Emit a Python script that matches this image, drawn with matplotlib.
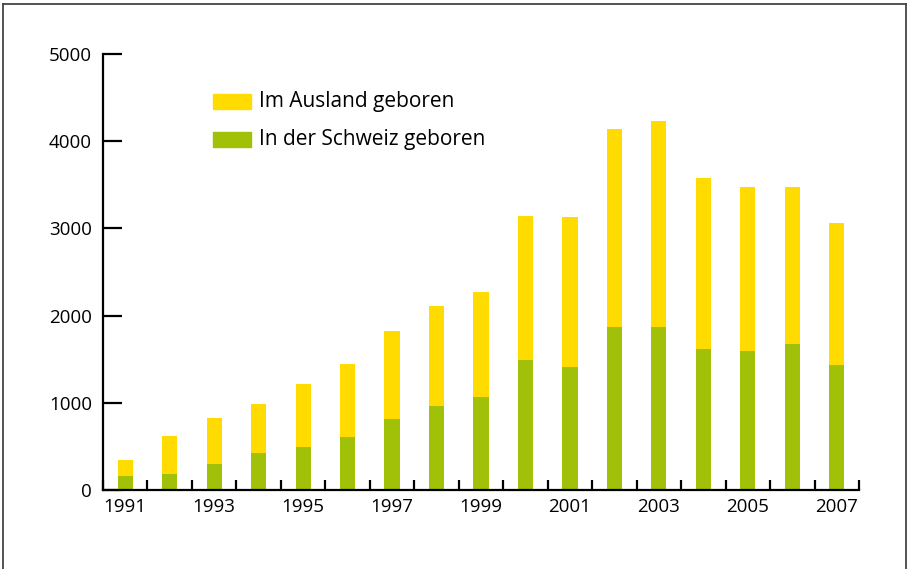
import matplotlib
matplotlib.use("Agg")
import matplotlib.pyplot as plt
from matplotlib.patches import Rectangle
from matplotlib.lines import Line2D
import numpy as np

years = list(range(1991, 2008))
schweiz = [160, 183, 298, 424, 493, 608, 814, 963, 1066, 1491, 1411, 1869, 1869, 1617, 1594, 1674, 1434]
total = [344, 619, 826, 986, 1216, 1445, 1823, 2110, 2271, 3142, 3130, 4140, 4232, 3578, 3475, 3475, 3062]
ausland = [t - s for t, s in zip(total, schweiz)]
labels = ["Im Ausland geboren", "In der Schweiz geboren"]
yticks = [0, 1000, 2000, 3000, 4000, 5000]

YELLOW = "#FFDB00"
GREEN = "#A0C108"

plt.rcParams['font.family'] = ['Open Sans', 'DejaVu Sans']
W, H = 910, 569
fig = plt.figure(figsize=(W / 100, H / 100), dpi=100)
ax = fig.add_axes([103 / W, 1 - 490 / H, (859 - 103) / W, (490 - 54) / H])

ax.bar(years, schweiz, width=0.34, color=GREEN, zorder=2)
ax.bar(years, ausland, bottom=schweiz, width=0.34, color=YELLOW, zorder=2)

ax.set_xlim(1990.5, 2007.5)
ax.set_ylim(0, 5000)
for s in ["top", "right"]:
    ax.spines[s].set_visible(False)
for s in ["left", "bottom"]:
    ax.spines[s].set_linewidth(1.6)
    ax.spines[s].set_capstyle("projecting")

ax.set_yticks(yticks)
ax.tick_params(axis="y", direction="in", length=14, width=1.6, pad=8, labelsize=13.5)
ax.set_xticks(years[::2])
ax.set_xticks(np.arange(1990.5, 2008, 1.0), minor=True)
ax.tick_params(axis="x", which="major", length=0, pad=6, labelsize=13.5)
ax.tick_params(axis="x", which="minor", direction="in", length=7, width=1.6)

# legend drawn manually
fx = lambda x: x / W
fy = lambda y: 1 - y / H
for i, (lab, col) in enumerate(zip(labels, [YELLOW, GREEN])):
    y0 = 94 + i * 38
    fig.patches.append(Rectangle((fx(213), fy(y0 + 15)), 38 / W, 15 / H,
                                 transform=fig.transFigure, color=col))
    fig.text(fx(259), fy(y0 + 8), lab, fontsize=15, va="center", ha="left")

# outer frame (no bottom)
kw = dict(transform=fig.transFigure, color="#444444", lw=1.3)
fig.lines.append(Line2D([fx(3), fx(3)], [0, fy(4)], **kw))
fig.lines.append(Line2D([fx(906), fx(906)], [0, fy(4)], **kw))
fig.lines.append(Line2D([fx(3), fx(906)], [fy(4), fy(4)], **kw))

fig.savefig("out.png", dpi=100)
